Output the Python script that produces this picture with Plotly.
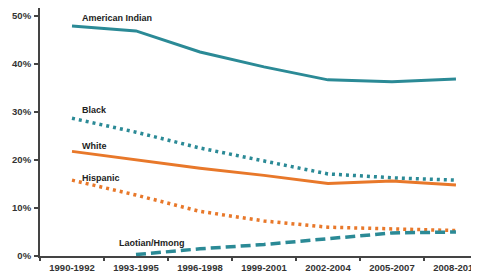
import plotly.graph_objects as go

periods = ["1990-1992", "1993-1995", "1996-1998", "1999-2001", "2002-2004", "2005-2007", "2008-2010"]
american_indian = [47.9, 46.9, 42.5, 39.4, 36.7, 36.3, 36.9]
black = [28.7, 25.8, 22.5, 19.8, 17.1, 16.3, 15.8]
white = [21.8, 20.0, 18.3, 16.8, 15.1, 15.6, 14.8]
hispanic = [15.8, 12.7, 9.3, 7.3, 6.0, 5.6, 5.3]
laotian_hmong = [None, 0.3, 1.5, 2.4, 3.6, 4.8, 5.0]

teal = "#2b8a96"
orange = "#e8782a"

fig = go.Figure()
fig.add_trace(go.Scatter(x=periods, y=american_indian, mode="lines",
                         line=dict(color=teal, width=3)))
fig.add_trace(go.Scatter(x=periods, y=black, mode="lines",
                         line=dict(color=teal, width=3.5, dash="3px,4px")))
fig.add_trace(go.Scatter(x=periods, y=white, mode="lines",
                         line=dict(color=orange, width=3)))
fig.add_trace(go.Scatter(x=periods, y=hispanic, mode="lines",
                         line=dict(color=orange, width=3.5, dash="3px,4px")))
fig.add_trace(go.Scatter(x=periods, y=laotian_hmong, mode="lines",
                         line=dict(color=teal, width=3.5, dash="10px,5px")))

labels = [("American Indian", 0.13, 49.6), ("Black", 0.13, 30.4), ("White", 0.13, 22.9),
          ("Hispanic", 0.13, 16.3), ("Laotian/Hmong", 0.70, 2.7)]
for text, xx, yy in labels:
    fig.add_annotation(x=xx, y=yy, xref="x", yref="y", text=f"<b>{text}</b>", showarrow=False,
                       xanchor="left", yanchor="middle",
                       font=dict(family="Liberation Sans, Arial", size=9, color="#222"))

fig.update_layout(
    width=471, height=272,
    margin=dict(l=32, r=0, t=0, b=24, autoexpand=False),
    paper_bgcolor="white", plot_bgcolor="white",
    showlegend=False,
    font=dict(family="Liberation Sans, Arial", size=9.5, color="#333"),
)
fig.update_xaxes(type="category", range=[-0.5, 6.36], showline=True, linecolor="#444", linewidth=2,
                 ticks="outside", tickson="boundaries", ticklen=3, tickcolor="#444", tickwidth=1.5,
                 showgrid=False, zeroline=False, automargin=False, ticklabelstandoff=2,
                 tickfont=dict(family="Liberation Sans, Arial", size=9.5, color="#333", weight="bold"))
fig.update_yaxes(range=[0, 51.67], tickvals=[0, 10, 20, 30, 40, 50],
                 ticktext=["0%", "10%", "20%", "30%", "40%", "50%"],
                 showline=True, linecolor="#444", linewidth=2, ticks="outside", ticklen=4,
                 tickcolor="#444", tickwidth=1.5, showgrid=False, zeroline=False, automargin=False,
                 ticklabelstandoff=1,
                 tickfont=dict(family="Liberation Sans, Arial", size=9.5, color="#333", weight="bold"))

fig.write_html("out.html")
